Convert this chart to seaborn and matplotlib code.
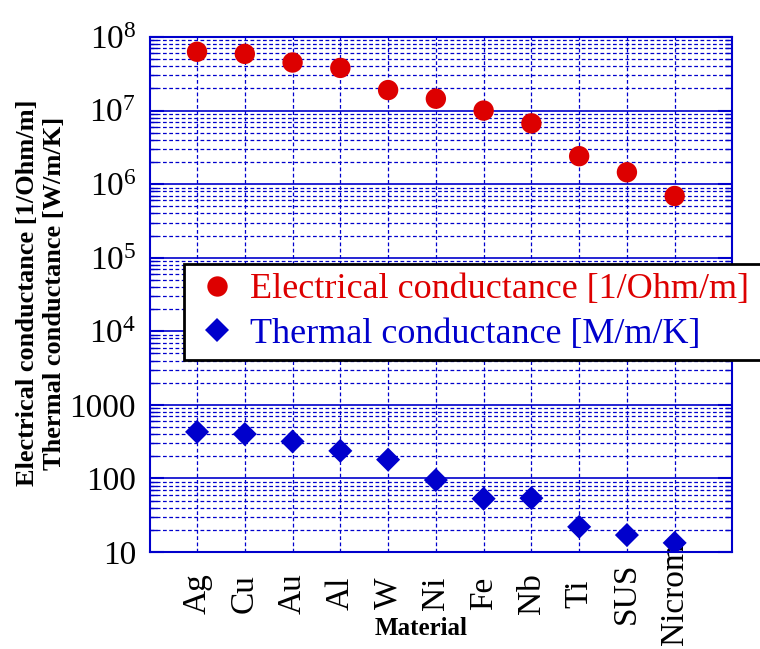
import numpy as np
import pandas as pd
import matplotlib
matplotlib.use("Agg")
import matplotlib.pyplot as plt
import seaborn as sns
from matplotlib.ticker import LogLocator, FixedLocator, NullFormatter, FixedFormatter

materials = ["Ag", "Cu", "Au", "Al", "W", "Ni", "Fe", "Nb", "Ti", "SUS", "Nicrom"]
electrical = [6.3e7, 5.9e7, 4.5e7, 3.8e7, 1.9e7, 1.45e7, 1.0e7, 6.7e6, 2.4e6, 1.45e6, 6.9e5]
thermal = [429, 401, 318, 237, 180, 95, 53, 54, 22, 17, 13.3]
series_names = ["Electrical conductance [1/Ohm/m]", "Thermal conductance [M/m/K]"]
ytick_values = [10, 100, 1000, 1e4, 1e5, 1e6, 1e7, 1e8]
ytick_labels = ["10", "100", "1000", "$10^4$", "$10^5$", "$10^6$", "$10^7$", "$10^8$"]

RED = "#dd0000"
BLUE = "#0000cc"

sns.set_style("white")
plt.rcParams["font.family"] = ["Liberation Serif", "DejaVu Serif"]
plt.rcParams["mathtext.fontset"] = "custom"
plt.rcParams["mathtext.rm"] = "Liberation Serif"
plt.rcParams["mathtext.it"] = "Liberation Serif:italic"
plt.rcParams["mathtext.bf"] = "Liberation Serif:bold"
plt.rcParams["text.color"] = "black"
plt.rcParams["axes.labelcolor"] = "black"
plt.rcParams["xtick.color"] = "black"
plt.rcParams["ytick.color"] = "black"

df = pd.DataFrame({
    "Material": materials * 2,
    "value": electrical + thermal,
    "series": [series_names[0]] * len(materials) + [series_names[1]] * len(materials),
})

fig = plt.figure(figsize=(7.6, 6.49), dpi=100)
ax = fig.add_axes([150 / 760, 97 / 649, 582 / 760, 515 / 649])

sns.scatterplot(
    data=df, x="Material", y="value", hue="series", style="series", size="series",
    palette={series_names[0]: RED, series_names[1]: BLUE},
    markers={series_names[0]: "o", series_names[1]: "D"},
    sizes={series_names[0]: 215, series_names[1]: 150},
    linewidth=0, ax=ax, zorder=5, legend=True,
)

ax.set_yscale("log")
ax.set_ylim(10, 1e8)
ax.set_xlim(-0.985, 11.2)

ax.yaxis.set_major_locator(FixedLocator(ytick_values))
ax.yaxis.set_major_formatter(FixedFormatter(ytick_labels))
ax.yaxis.set_minor_locator(LogLocator(base=10, subs=np.arange(2, 10), numticks=20))
ax.yaxis.set_minor_formatter(NullFormatter())

ax.set_xticks(range(len(materials)))
ax.set_xticklabels(materials, rotation=90, va="center", fontsize=24)
ax.tick_params(axis="x", length=0, pad=30, labelcolor="black")
ax.tick_params(axis="y", which="major", direction="in", length=10, width=1.5,
               color=BLUE, labelcolor="black", labelsize=24, pad=10, left=True, right=True)
ax.tick_params(axis="y", which="minor", direction="in", length=5, width=1,
               color=BLUE, left=True, right=True)

ax.grid(True, which="major", axis="y", color=BLUE, linestyle="-", linewidth=1.2, zorder=0)
ax.grid(True, which="minor", axis="y", color=BLUE, linestyle=(0, (3, 2)), linewidth=0.9, zorder=0)
ax.grid(True, which="major", axis="x", color=BLUE, linestyle=(0, (3, 2)), linewidth=0.9, zorder=0)
ax.set_axisbelow(True)

for sp in ax.spines.values():
    sp.set_color(BLUE)
    sp.set_linewidth(1.5)

ax.set_xlabel("Material", fontsize=18, fontweight="bold", color="black")
ax.xaxis.set_label_coords(0.466, -0.148)
ax.xaxis.label.set_va("center")
ax.set_ylabel("Electrical conductance [1/Ohm/m]\nThermal conductance [W/m/K]",
              fontsize=19, fontweight="bold", linespacing=1.2, color="black")
ax.yaxis.set_label_coords(-0.145, 0.503)

handles, labels = ax.get_legend_handles_labels()
leg = ax.legend(handles, labels, loc="upper left",
                bbox_to_anchor=(184 / 760, 0.445, 0.8, 0.148),
                bbox_transform=fig.transFigure, mode="expand",
                fontsize=26, frameon=True, fancybox=False, edgecolor="black",
                framealpha=1, borderpad=0.25, labelspacing=0.3, handlelength=1.34,
                handletextpad=0.25, markerscale=1.0, borderaxespad=0)
leg.get_frame().set_linewidth(2)
for t, c in zip(leg.get_texts(), [RED, BLUE]):
    t.set_color(c)

fig.savefig("out.png", dpi=100)
